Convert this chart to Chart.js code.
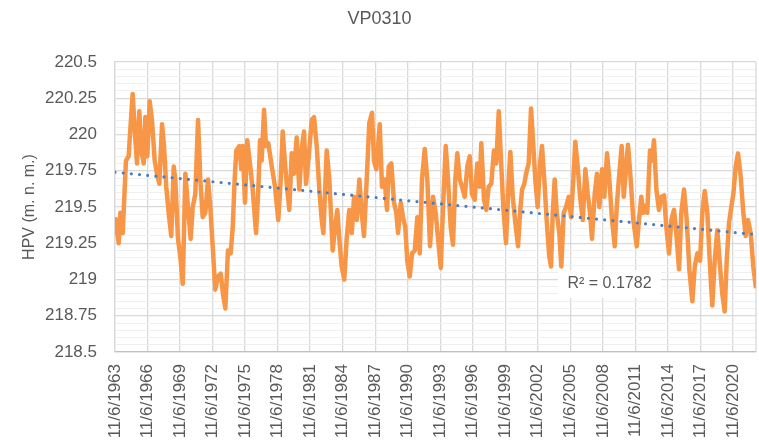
<!DOCTYPE html>
<html>
<head>
<meta charset="utf-8">
<title>VP0310</title>
<script src="https://cdn.jsdelivr.net/npm/chart.js@4.4.1/dist/chart.umd.min.js"></script>
<style>
  html, body { margin: 0; padding: 0; background: #fff; }
  #wrap { width: 759px; height: 445px; }
</style>
</head>
<body>
<div id="wrap"><canvas id="chart" width="759" height="445"></canvas></div>
<script>
// ------------------ Data ------------------
const chartTitle = 'VP0310';
const axisTitle = 'HPV (m. n. m.)';
const rSquaredText = 'R² = 0.1782';

// measurement dates as decimal years, first one is 11/6/1963
const xStart = 1963.85;
const xEnd = 2022.98;

const years = [
    1963.86, 1964.19, 1964.34, 1964.56, 1964.74, 1964.86, 1965.11, 1965.26, 1965.48, 1965.67,
    1965.88, 1966.09, 1966.28, 1966.50, 1966.65, 1966.83, 1967.05, 1967.26, 1967.51, 1967.72,
    1967.94, 1968.19, 1968.37, 1968.58, 1968.80, 1969.04, 1969.27, 1969.41, 1969.66, 1969.87,
    1970.10, 1970.34, 1970.58, 1970.83, 1971.02, 1971.26, 1971.51, 1971.72, 1971.94, 1972.18,
    1972.43, 1972.64, 1972.86, 1973.10, 1973.35, 1973.60, 1973.81, 1974.03, 1974.27, 1974.52,
    1974.71, 1974.89, 1975.04, 1975.32, 1975.50,
    1975.63, 1975.84, 1976.05, 1976.30, 1976.55, 1976.86, 1977.07, 1977.23, 1977.38, 1977.60,
    1977.78, 1977.99, 1978.31, 1978.61, 1978.91, 1979.14, 1979.32, 1979.53, 1979.74, 1979.93,
    1980.15, 1980.36, 1980.61, 1980.85, 1981.10, 1981.29, 1981.47, 1981.72, 1982.00, 1982.21,
    1982.46, 1982.70, 1982.92, 1983.07, 1983.38, 1983.62, 1983.93, 1984.15, 1984.36, 1984.54,
    1984.76, 1985.00, 1985.22, 1985.46, 1985.69, 1985.90, 1986.15, 1986.39, 1986.61, 1986.82,
    1987.07, 1987.31,
    1987.56, 1987.74, 1987.96, 1988.27, 1988.48, 1988.73, 1988.94, 1989.10, 1989.34, 1989.59,
    1989.80, 1989.96, 1990.21, 1990.42, 1990.63, 1990.81, 1991.04, 1991.25, 1991.50, 1991.74,
    1991.96, 1992.17, 1992.42, 1992.66, 1992.91, 1993.19, 1993.43, 1993.65, 1993.90, 1994.11,
    1994.36, 1994.57, 1994.82, 1995.03, 1995.24, 1995.43, 1995.65, 1995.86, 1996.11, 1996.35,
    1996.57, 1996.78, 1997.03, 1997.27, 1997.49, 1997.64, 1997.89, 1998.10, 1998.32, 1998.56,
    1998.81, 1999.02,
    1999.25, 1999.46, 1999.67, 1999.92, 2000.17, 2000.32, 2000.54, 2000.78, 2001.03, 2001.21,
    2001.40, 2001.61, 2001.77, 2002.01, 2002.23, 2002.44, 2002.62, 2002.84, 2003.06, 2003.24,
    2003.45, 2003.67, 2003.91, 2004.07, 2004.23, 2004.41, 2004.60, 2004.84, 2005.02, 2005.24,
    2005.46, 2005.70, 2005.92, 2006.13, 2006.31, 2006.53, 2006.75, 2007.00, 2007.24, 2007.46,
    2007.67, 2007.85, 2008.10, 2008.31, 2008.53, 2008.78, 2008.99, 2009.24, 2009.45, 2009.70,
    2009.95, 2010.13, 2010.37, 2010.59, 2010.78,
    2011.17, 2011.42, 2011.66, 2011.98, 2012.19, 2012.40, 2012.59, 2012.81, 2012.95, 2013.20,
    2013.39, 2013.57, 2013.79, 2014.03, 2014.25, 2014.50, 2014.71, 2014.96, 2015.17, 2015.42,
    2015.67, 2015.88, 2016.09, 2016.34, 2016.59, 2016.83, 2017.11, 2017.33, 2017.57, 2017.82,
    2018.03, 2018.25, 2018.49, 2018.74, 2018.95, 2019.17, 2019.41, 2019.66, 2019.87, 2020.09,
    2020.28, 2020.49, 2020.70, 2020.89, 2021.11, 2021.32, 2021.57, 2021.81, 2022.03, 2022.24,
    2022.49, 2022.73, 2022.98
];

const levels = [
    219.43, 219.25, 219.46, 219.32, 219.62, 219.82, 219.85, 220.03, 220.28, 220.03,
    219.80, 220.16, 219.89, 219.80, 220.12, 219.85, 220.23, 220.10, 219.82, 219.73,
    219.66, 220.07, 219.92, 219.64, 219.46, 219.30, 219.78, 219.69, 219.28, 219.16,
    218.97, 219.73, 219.50, 219.28, 219.50, 219.59, 220.10, 219.69, 219.43, 219.46,
    219.69, 219.50, 219.23, 218.93, 219.02, 219.04, 218.90, 218.80, 219.20, 219.18,
    219.36, 219.69, 219.89, 219.92, 219.76,
    219.92, 219.53, 219.96, 219.80, 219.62, 219.32, 219.62, 219.96, 219.82, 220.17,
    219.92, 219.94, 219.78, 219.64, 219.41, 219.69, 220.02, 219.80, 219.62, 219.48,
    219.87, 219.73, 219.98, 219.62, 219.92, 220.02, 219.66, 219.85, 220.10, 220.12,
    219.92, 219.62, 219.41, 219.32, 219.89, 219.69, 219.20, 219.36, 219.48, 219.28,
    219.09, 219.00, 219.28, 219.48, 219.32, 219.57, 219.41, 219.69, 219.46, 219.30,
    219.69, 220.08,
    220.15, 219.82, 219.76, 220.07, 219.64, 219.69, 219.48, 219.78, 219.80, 219.53,
    219.46, 219.32, 219.53, 219.43, 219.36, 219.13, 219.02, 219.18, 219.20, 219.43,
    219.18, 219.69, 219.90, 219.69, 219.23, 219.57, 219.46, 219.28, 219.08, 219.50,
    219.92, 219.69, 219.36, 219.24, 219.69, 219.87, 219.69, 219.64, 219.57, 219.78,
    219.85, 219.59, 219.55, 219.80, 219.64, 219.94, 219.55, 219.48, 219.64, 219.66,
    219.89, 219.80,
    220.16, 219.82, 219.50, 219.25, 219.69, 219.88, 219.57, 219.39, 219.23, 219.46,
    219.62, 219.66, 219.73, 219.80, 220.18, 219.92, 219.69, 219.50, 219.80, 219.92,
    219.69, 219.41, 219.16, 219.09, 219.46, 219.69, 219.46, 219.32, 219.09, 219.46,
    219.50, 219.57, 219.43, 219.69, 219.95, 219.78, 219.57, 219.41, 219.76, 219.59,
    219.46, 219.28, 219.59, 219.73, 219.50, 219.76, 219.57, 219.87, 219.69, 219.41,
    219.23, 219.50, 219.73, 219.92, 219.57,
    219.93, 219.69, 219.41, 219.23, 219.41, 219.57, 219.46, 219.51, 219.46, 219.89,
    219.82, 219.96, 219.62, 219.48, 219.57, 219.58, 219.36, 219.18, 219.41, 219.48,
    219.28, 219.07, 219.46, 219.62, 219.41, 219.07, 218.85, 219.09, 219.18, 219.13,
    219.46, 219.61, 219.46, 219.09, 218.82, 219.13, 219.34, 219.09, 218.90, 218.78,
    219.13, 219.39, 219.50, 219.59, 219.78, 219.87, 219.71, 219.46, 219.30, 219.41,
    219.32, 219.09, 218.94
];

// linear trend line (ends)
const trendYears = [1963.85, 2022.98];
const trendLevels = [219.74, 219.31];

// x ticks every 3 years, on 11/6
const tickYears = [1963, 1966, 1969, 1972, 1975, 1978, 1981, 1984, 1987, 1990,
                   1993, 1996, 1999, 2002, 2005, 2008, 2011, 2014, 2017, 2020];
const tickLabels = ['11/6/1963', '11/6/1966', '11/6/1969', '11/6/1972', '11/6/1975',
                    '11/6/1978', '11/6/1981', '11/6/1984', '11/6/1987', '11/6/1990',
                    '11/6/1993', '11/6/1996', '11/6/1999', '11/6/2002', '11/6/2005',
                    '11/6/2008', '11/6/2011', '11/6/2014', '11/6/2017', '11/6/2020'];

const yTickValues = [218.5, 218.75, 219, 219.25, 219.5, 219.75, 220, 220.25, 220.5];
const yTickLabels = ['218.5', '218.75', '219', '219.25', '219.5', '219.75', '220', '220.25', '220.5'];

// ------------------ Styles ------------------
const textColor = '#595959';
const fontFamily = "'Liberation Sans', Arial, sans-serif";
const majorGrid = '#d9d9d9';
const minorGrid = '#efefef';

function isMajor(value) {
    return yTickValues.some(v => Math.abs(v - value) < 1e-6);
}

// ------------------ Plugins ------------------
const decorPlugin = {
    id: 'decor',
    beforeDatasetsDraw(chart) {
        const ctx = chart.ctx;
        const area = chart.chartArea;
        ctx.save();
        ctx.strokeStyle = majorGrid;
        ctx.lineWidth = 1.3;
        ctx.beginPath();
        ctx.moveTo(area.right, area.top);
        ctx.lineTo(area.right, area.bottom);
        ctx.stroke();
        ctx.restore();
    },
    afterDatasetsDraw(chart) {
        const ctx = chart.ctx;
        const area = chart.chartArea;
        ctx.save();
        // R² label box
        const bx = area.left + 443, by = area.top + 208;
        ctx.fillStyle = '#ffffff';
        ctx.fillRect(bx, by, 103, 28);
        ctx.fillStyle = textColor;
        ctx.font = '16px ' + fontFamily;
        ctx.textAlign = 'center';
        ctx.textBaseline = 'middle';
        ctx.fillText(rSquaredText, bx + 51.5, by + 14);
        // title
        ctx.font = '18px ' + fontFamily;
        ctx.fillText(chartTitle, chart.width / 2, 19);
        ctx.restore();
    }
};

// ------------------ Chart ------------------
const ctx = document.getElementById('chart').getContext('2d');

new Chart(ctx, {
    type: 'line',
    data: {
        datasets: [{
            label: 'VP0310',
            data: years.map((y, i) => ({ x: y, y: levels[i] })),
            borderColor: '#f79646',
            borderWidth: 4.5,
            borderJoinStyle: 'round',
            pointRadius: 0,
            tension: 0,
            order: 1
        }, {
            label: 'Trend',
            data: trendYears.map((y, i) => ({ x: y, y: trendLevels[i] })),
            borderColor: '#4a7ebf',
            borderWidth: 3.2,
            borderDash: [0, 8.2],
            borderCapStyle: 'round',
            pointRadius: 0,
            order: 0
        }]
    },
    options: {
        responsive: false,
        animation: false,
        devicePixelRatio: 1,
        layout: {
            padding: { top: 62, right: 3, bottom: 0, left: 0 }
        },
        plugins: {
            legend: { display: false },
            tooltip: { enabled: false }
        },
        scales: {
            x: {
                type: 'linear',
                min: xStart,
                max: xEnd,
                afterBuildTicks: function(scale) {
                    scale.ticks = tickYears.map(y => ({ value: y + (xStart - 1963) }));
                },
                afterFit: function(scale) {
                    scale.height = 93;
                    scale.paddingLeft = 0;
                    scale.paddingRight = 0;
                },
                ticks: {
                    autoSkip: false,
                    maxRotation: 90,
                    minRotation: 90,
                    padding: 12,
                    color: textColor,
                    font: { family: fontFamily, size: 17 },
                    callback: function(value, index) {
                        return tickLabels[index];
                    }
                },
                grid: {
                    color: majorGrid,
                    lineWidth: 1.3,
                    drawTicks: false
                },
                border: { color: '#bfbfbf', width: 1.3 }
            },
            y: {
                min: 218.5,
                max: 220.5,
                afterBuildTicks: function(scale) {
                    const ticks = [];
                    for (let i = 0; i <= 40; i++) {
                        ticks.push({ value: 218.5 + i * 0.05 });
                    }
                    scale.ticks = ticks;
                },
                afterFit: function(scale) {
                    scale.width = 115;
                },
                ticks: {
                    autoSkip: false,
                    padding: 18,
                    color: textColor,
                    font: { family: fontFamily, size: 17 },
                    callback: function(value) {
                        const idx = yTickValues.findIndex(v => Math.abs(v - value) < 1e-6);
                        return idx >= 0 ? yTickLabels[idx] : '';
                    }
                },
                grid: {
                    color: c => (c.tick && isMajor(c.tick.value)) ? majorGrid : minorGrid,
                    lineWidth: c => (c.tick && isMajor(c.tick.value)) ? 1.3 : 1,
                    drawTicks: false
                },
                border: { color: majorGrid, width: 1.3 },
                title: {
                    display: true,
                    text: axisTitle,
                    color: textColor,
                    font: { family: fontFamily, size: 16 },
                    padding: { top: 20, bottom: 0 }
                }
            }
        }
    },
    plugins: [decorPlugin]
});
</script>
</body>
</html>
